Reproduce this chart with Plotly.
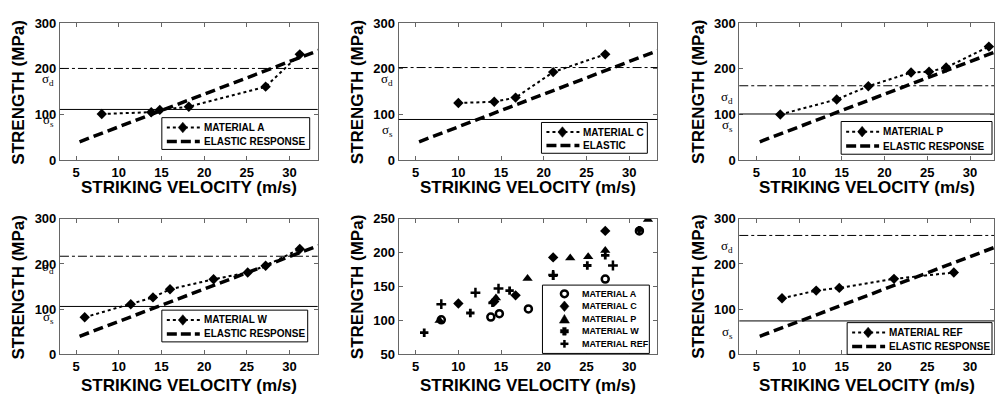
import plotly.graph_objects as go

# Striking velocity (m/s) and measured strength (MPa) for each material
vel_a = [8.0, 13.8, 14.8, 18.2, 27.2, 31.2]
str_a = [101, 105, 110, 117, 161, 232]
vel_c = [10.0, 14.2, 16.7, 21.1, 27.2]
str_c = [125, 128, 137, 193, 232]
vel_p = [7.8, 14.4, 18.1, 23.1, 25.2, 27.2, 32.2]
str_p = [100, 133, 162, 192, 194, 203, 249]
vel_w = [6.0, 11.4, 14.0, 16.0, 21.1, 25.1, 27.2, 31.2]
str_w = [82, 111, 126, 144, 166, 181, 196, 233]
vel_ref = [8.0, 12.0, 14.7, 21.1, 28.1]
str_ref = [124, 141, 147, 167, 181]

# Elastic response (linear)
vel_elastic = [5.4, 35.0]
str_elastic = [40, 252]

# Dynamic (sigma_d) and static (sigma_s) strengths, one per material panel
panel_names = ["MATERIAL A", "MATERIAL C", "MATERIAL P", "MATERIAL W", "MATERIAL REF"]
sigma_d = [201, 203, 163, 217, 263]
sigma_s = [111, 89, 101, 106, 74]

x_ticks = [5, 10, 15, 20, 25, 30]
y_ticks_main = [0, 100, 200, 300]
y_ticks_all = [50, 100, 150, 200, 250]

W, H = 995, 398


def fx(p):
    return p / W


def fy(p):
    return 1 - p / H


FONT = "Arial, Liberation Sans, sans-serif"
SERIF = "Times New Roman, Liberation Serif, serif"
AX_COL = "#666666"

# panel layout in pixels: (left, right, top, bottom)
cols = [(60, 318), (399, 658), (740, 995)]
rows = [(17, 159), (220, 361)]
xranges = [[3.1, 33.3], [3.0, 33.3], [3.0, 32.8]]
title_gap = [29, 32]

fig = go.Figure()
annotations = []
shapes = []
layout = dict(
    width=W, height=H, margin=dict(l=0, r=0, t=0, b=0),
    paper_bgcolor="white", plot_bgcolor="white", showlegend=False,
)

axis_common = dict(
    showline=True, linecolor=AX_COL, linewidth=1, mirror="ticks",
    ticks="inside", ticklen=4, tickcolor=AX_COL, showgrid=False, zeroline=False,
    tickfont=dict(family=FONT, size=13, color="black", weight="bold"),
)

for k in range(6):
    r, c = divmod(k, 3)
    left, right = cols[c]
    top, bottom = rows[r]
    sfx = "" if k == 0 else str(k + 1)
    xa = dict(axis_common, domain=[fx(left), fx(right)], range=xranges[c],
              tickvals=x_ticks, anchor="y" + sfx)
    if k == 4:
        ya = dict(axis_common, domain=[fy(bottom), fy(top)], range=[50, 250],
                  tickvals=y_ticks_all, anchor="x" + sfx)
    else:
        ya = dict(axis_common, domain=[fy(bottom), fy(top)], range=[0, 300],
                  tickvals=y_ticks_main, anchor="x" + sfx)
    layout["xaxis" + sfx] = xa
    layout["yaxis" + sfx] = ya
    annotations.append(dict(
        text="STRIKING VELOCITY (m/s)", xref="paper", yref="paper",
        x=fx((left + right) / 2), y=fy(bottom + title_gap[r]), xanchor="center", yanchor="middle",
        showarrow=False, font=dict(family=FONT, size=17, color="black", weight="bold")))
    annotations.append(dict(
        text="STRENGTH (MPa)", xref="paper", yref="paper", textangle=-90,
        x=fx(left - 41), y=fy((top + bottom) / 2), xanchor="center", yanchor="middle",
        showarrow=False, font=dict(family=FONT, size=17, color="black", weight="bold")))


# ---- legend key helpers (pixel positions converted to paper coordinates) ----
def pline(x0, y0, x1, y1, width, dash="solid"):
    shapes.append(dict(type="line", xref="paper", yref="paper",
                       x0=fx(x0), y0=fy(y0), x1=fx(x1), y1=fy(y1),
                       line=dict(color="black", width=width, dash=dash)))


def ppath(points):
    d = "M " + " L ".join("%.5f,%.5f" % (fx(px), fy(py)) for px, py in points) + " Z"
    shapes.append(dict(type="path", xref="paper", yref="paper", path=d,
                       fillcolor="black", line=dict(color="black", width=0.5)))


def key_diamond(cx, cy, rx=4.5, ry=5.5):
    ppath([(cx, cy - ry), (cx + rx, cy), (cx, cy + ry), (cx - rx, cy)])


def key_circle(cx, cy, rad=3.5):
    shapes.append(dict(type="circle", xref="paper", yref="paper",
                       x0=fx(cx - rad), x1=fx(cx + rad), y0=fy(cy + rad), y1=fy(cy - rad),
                       line=dict(color="black", width=2.5), fillcolor="white"))


def key_triangle(cx, cy, h=9, w=10):
    ppath([(cx, cy - h / 2), (cx + w / 2, cy + h / 2), (cx - w / 2, cy + h / 2)])


def key_cross(cx, cy, arm=4, half=1.8):
    ppath([(cx - half, cy - arm), (cx + half, cy - arm), (cx + half, cy - half),
           (cx + arm, cy - half), (cx + arm, cy + half), (cx + half, cy + half),
           (cx + half, cy + arm), (cx - half, cy + arm), (cx - half, cy + half),
           (cx - arm, cy + half), (cx - arm, cy - half), (cx - half, cy - half)])


def key_plus(cx, cy, arm=4):
    pline(cx - arm, cy, cx + arm, cy, 2.5)
    pline(cx, cy - arm, cx, cy + arm, 2.5)


def legend_box(l, t, r, b):
    shapes.append(dict(type="rect", xref="paper", yref="paper",
                       x0=fx(l), x1=fx(r), y0=fy(b), y1=fy(t),
                       fillcolor="white", line=dict(color="black", width=1)))


def legend_text(x, y, text, size):
    annotations.append(dict(text=text, xref="paper", yref="paper", x=fx(x), y=fy(y),
                            xanchor="left", yanchor="middle", showarrow=False,
                            font=dict(family=FONT, size=size, color="black", weight="bold")))


# material panels: (panel index, velocities, strengths, elastic label, legend box px)
material_panels = [
    (0, vel_a, str_a, "ELASTIC RESPONSE", (162, 115, 310, 148)),
    (1, vel_c, str_c, "ELASTIC", (542, 120, 648, 152)),
    (2, vel_p, str_p, "ELASTIC RESPONSE", (842, 119, 993, 153)),
    (3, vel_w, str_w, "ELASTIC RESPONSE", (162, 315, 308, 348)),
    (5, vel_ref, str_ref, "ELASTIC RESPONSE", (848, 328, 993, 361)),
]

for m, (k, vel, stg, el_label, box) in enumerate(material_panels):
    sfx = "" if k == 0 else str(k + 1)
    left = cols[k % 3][0]
    fig.add_trace(go.Scatter(
        x=vel_elastic, y=str_elastic, mode="lines", name=el_label,
        xaxis="x" + sfx, yaxis="y" + sfx,
        line=dict(color="black", width=3.5, dash="10px,5px")))
    fig.add_trace(go.Scatter(
        x=vel, y=stg, mode="lines+markers", name=panel_names[m],
        xaxis="x" + sfx, yaxis="y" + sfx,
        line=dict(color="black", width=2, dash="dot"),
        marker=dict(symbol="diamond", size=8, color="black")))
    # threshold strengths
    shapes.append(dict(
        type="line", xref="x" + sfx + " domain", yref="y" + sfx,
        x0=0, x1=1, y0=sigma_d[m], y1=sigma_d[m],
        line=dict(color="black", width=1, dash="dashdot")))
    shapes.append(dict(
        type="line", xref="x" + sfx + " domain", yref="y" + sfx,
        x0=0, x1=1, y0=sigma_s[m], y1=sigma_s[m],
        line=dict(color="black", width=1)))
    for val, sub in ((sigma_d[m], "d"), (sigma_s[m], "s")):
        annotations.append(dict(
            text="σ<sub>" + sub + "</sub>", xref="paper", yref="y" + sfx,
            x=fx(left - 4), y=val, xanchor="right", yanchor="top", yshift=-1,
            showarrow=False, font=dict(family=SERIF, size=13, color="black")))
    # legend
    l, t, r, b = box
    h = b - t
    y1, y2 = t + 0.31 * h, t + 0.75 * h
    legend_box(l, t, r, b)
    pline(l + 5, y1, l + 38, y1, 2, "dot")
    key_diamond(l + 21, y1)
    legend_text(l + 40, y1, panel_names[m], 10)
    pline(l + 5, y2, l + 38, y2, 3.5, "10px,4px")
    legend_text(l + 40, y2, el_label, 10)

# combined comparison panel
all_sets = [
    (vel_a, str_a, dict(symbol="circle-open", size=7, color="black", line=dict(width=2.5, color="black"))),
    (vel_c, str_c, dict(symbol="diamond", size=8, color="black")),
    (vel_p, str_p, dict(symbol="triangle-up", size=9, color="black")),
    (vel_w, str_w, dict(symbol="cross", size=7, color="black")),
    (vel_ref, str_ref, dict(symbol="cross-thin-open", size=7, color="black", line=dict(width=2.5, color="black"))),
]
for (vel, stg, mk), name in zip(all_sets, panel_names):
    fig.add_trace(go.Scatter(x=vel, y=stg, mode="markers", name=name,
                             xaxis="x5", yaxis="y5", marker=mk))

legend_box(543, 289, 650, 360)
key_fns = [key_circle, key_diamond, key_triangle, key_cross, key_plus]
for i, (fn, name) in enumerate(zip(key_fns, panel_names)):
    cy = 298 + i * 13
    fn(565, cy)
    legend_text(581, cy, name, 9)

layout["annotations"] = annotations
layout["shapes"] = shapes
fig.update_layout(**layout)
fig.write_html("out.html")
